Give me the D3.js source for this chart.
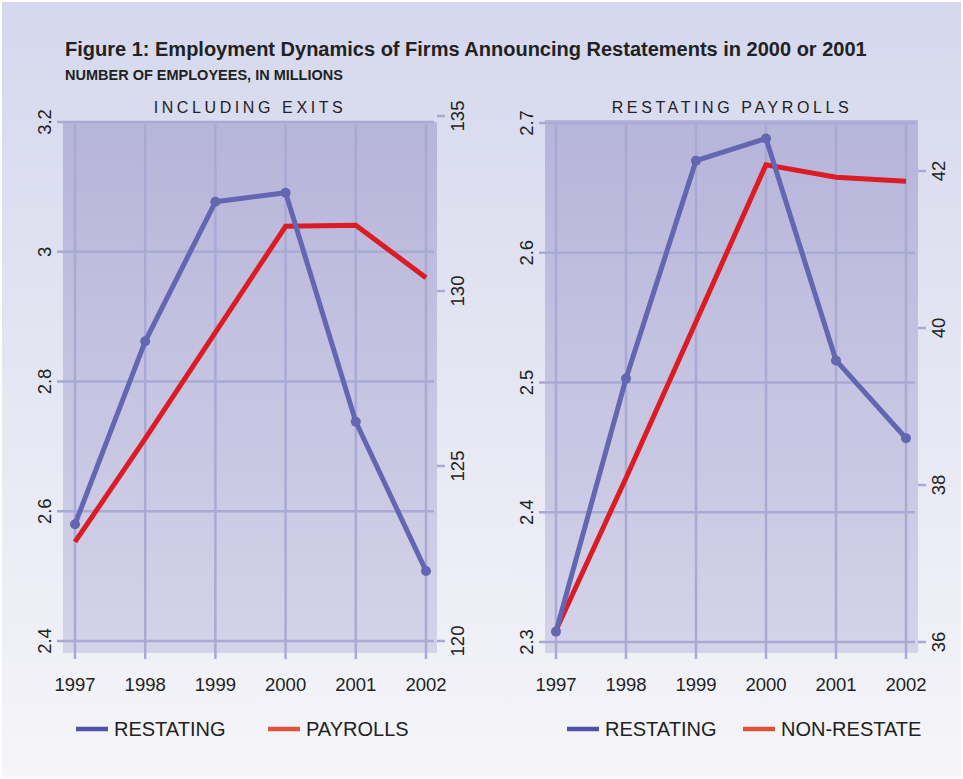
<!DOCTYPE html>
<html>
<head>
<meta charset="utf-8">
<script src="https://cdn.jsdelivr.net/npm/d3@7"></script>
<style>
  body { margin: 0; background: #fff; }
  text { font-family: "Liberation Sans", Arial, Helvetica, sans-serif; fill: #222; }
</style>
</head>
<body>
<div id="chart"></div>
<script>
// data
var years = [1997, 1998, 1999, 2000, 2001, 2002];

// left panel: including exits
var exitsRestating = [2.58, 2.862, 3.077, 3.091, 2.738, 2.508];
var exitsPayrolls = [122.83, 125.78, 128.82, 131.85, 131.88, 130.38];
var exitsLeftTicks = [2.4, 2.6, 2.8, 3, 3.2];
var exitsRightTicks = [120, 125, 130, 135];

// right panel: restating payrolls
var payRestating = [2.308, 2.503, 2.671, 2.688, 2.517, 2.457];
var payNonRestate = [36.15, 38.09, 40.08, 42.08, 41.92, 41.87];
var payLeftTicks = [2.3, 2.4, 2.5, 2.6, 2.7];
var payRightTicks = [36, 38, 40, 42];

var W = 963, H = 779;
var blue = "#6366b0", red = "#dc1c24", grid = "#aaa9d4";

var svg = d3.select("#chart").append("svg")
    .attr("width", W)
    .attr("height", H);

var defs = svg.append("defs");
var bg = defs.append("linearGradient").attr("id", "bg").attr("x1", 0).attr("y1", 0).attr("x2", 0).attr("y2", 1);
bg.append("stop").attr("offset", "0%").attr("stop-color", "#d5d8ed");
bg.append("stop").attr("offset", "100%").attr("stop-color", "#f5f5f9");
var pg = defs.append("linearGradient").attr("id", "plotbg").attr("x1", 0).attr("y1", 0).attr("x2", 0).attr("y2", 1);
pg.append("stop").attr("offset", "0%").attr("stop-color", "#b6b5da");
pg.append("stop").attr("offset", "100%").attr("stop-color", "#d4d3e9");

svg.append("rect").attr("x", 2).attr("y", 2).attr("width", W - 4).attr("height", H - 4).attr("fill", "url(#bg)");

svg.append("text").attr("x", 65).attr("y", 56)
    .attr("font-size", 20).attr("font-weight", "bold")
    .text("Figure 1: Employment Dynamics of Firms Announcing Restatements in 2000 or 2001");
svg.append("text").attr("x", 65).attr("y", 80)
    .attr("font-size", 14.5).attr("font-weight", "bold")
    .text("NUMBER OF EMPLOYEES, IN MILLIONS");

function fmt(v) { return String(v); }

function drawPanel(cfg) {
    var g = svg.append("g");
    var x = d3.scaleLinear().domain([1997, 2002]).range(cfg.xr);
    var yl = d3.scaleLinear().domain(cfg.ld).range(cfg.lr);
    var yr = d3.scaleLinear().domain(cfg.rd).range(cfg.rr);

    // plot background
    g.append("rect")
        .attr("x", cfg.box[0]).attr("y", cfg.box[1])
        .attr("width", cfg.box[2] - cfg.box[0]).attr("height", cfg.box[3] - cfg.box[1])
        .attr("fill", "url(#plotbg)");

    // gridlines for left axis
    g.selectAll(".hg").data(cfg.lt).enter().append("line")
        .attr("x1", cfg.box[0] - 6).attr("x2", cfg.box[2] - 3)
        .attr("y1", d => yl(d)).attr("y2", d => yl(d))
        .attr("stroke", grid).attr("stroke-width", 2.5);
    g.selectAll(".vg").data(years).enter().append("line")
        .attr("x1", d => x(d)).attr("x2", d => x(d))
        .attr("y1", cfg.box[1] + 2).attr("y2", cfg.box[3] + 6)
        .attr("stroke", grid).attr("stroke-width", 2.5);

    // right axis ticks
    g.selectAll(".rt").data(cfg.rt).enter().append("line")
        .attr("x1", cfg.box[2]).attr("x2", cfg.box[2] + 8)
        .attr("y1", d => yr(d)).attr("y2", d => yr(d))
        .attr("stroke", grid).attr("stroke-width", 2.5);

    // tick labels
    g.selectAll(".ll").data(cfg.lt).enter().append("text")
        .attr("transform", d => "translate(" + (cfg.box[0] - 19) + "," + yl(d) + ") rotate(-90)")
        .attr("text-anchor", "middle").attr("dy", "0.36em")
        .attr("font-size", 18.5).text(fmt);
    g.selectAll(".rl").data(cfg.rt).enter().append("text")
        .attr("transform", d => "translate(" + (cfg.box[2] + 20) + "," + yr(d) + ") rotate(-90)")
        .attr("text-anchor", "middle").attr("dy", "0.36em")
        .attr("font-size", 18.5).text(fmt);
    g.selectAll(".xl").data(years).enter().append("text")
        .attr("x", d => x(d)).attr("y", 691)
        .attr("text-anchor", "middle")
        .attr("font-size", 18.5).text(d => d);

    // panel title
    g.append("text").attr("x", cfg.titleX).attr("y", 113)
        .attr("text-anchor", "middle").attr("font-size", 16)
        .attr("letter-spacing", "3.6px").text(cfg.title);

    // series
    var red_line = d3.line().x((d, i) => x(years[i])).y(d => yr(d));
    g.append("path").datum(cfg.rightSeries)
        .attr("d", red_line).attr("fill", "none")
        .attr("stroke", red).attr("stroke-width", 5).attr("stroke-linejoin", "miter");

    var blue_line = d3.line().x((d, i) => x(years[i])).y(d => yl(d));
    g.append("path").datum(cfg.leftSeries)
        .attr("d", blue_line).attr("fill", "none")
        .attr("stroke", blue).attr("stroke-width", 5).attr("stroke-linejoin", "round");
    g.selectAll(".dot").data(cfg.leftSeries).enter().append("circle")
        .attr("cx", (d, i) => x(years[i])).attr("cy", d => yl(d))
        .attr("r", 5).attr("fill", blue);

    // legend
    var lg = g.append("g");
    cfg.legend.forEach(function(item) {
        lg.append("line").attr("x1", item.x).attr("x2", item.x + 32)
            .attr("y1", 729).attr("y2", 729)
            .attr("stroke", item.color).attr("stroke-width", 4.5);
        lg.append("text").attr("x", item.x + 38).attr("y", 736)
            .attr("font-size", 20).text(item.label);
    });
}

drawPanel({
    title: "INCLUDING EXITS", titleX: 250,
    box: [63, 122, 437, 653],
    xr: [75, 426],
    ld: [2.4, 3.2], lr: [641, 122],
    rd: [120, 135], rr: [641, 116],
    lt: exitsLeftTicks, rt: exitsRightTicks,
    leftSeries: exitsRestating, rightSeries: exitsPayrolls,
    legend: [{ x: 76, color: "#4f54a8", label: "RESTATING" }, { x: 268, color: "#e0533a", label: "PAYROLLS" }]
});

drawPanel({
    title: "RESTATING PAYROLLS", titleX: 732,
    box: [545, 120, 918, 653],
    xr: [556, 906],
    ld: [2.3, 2.7], lr: [642, 123],
    rd: [36, 42], rr: [642, 171],
    lt: payLeftTicks, rt: payRightTicks,
    leftSeries: payRestating, rightSeries: payNonRestate,
    legend: [{ x: 567, color: "#4f54a8", label: "RESTATING" }, { x: 743, color: "#e0533a", label: "NON-RESTATE" }]
});
</script>
</body>
</html>
